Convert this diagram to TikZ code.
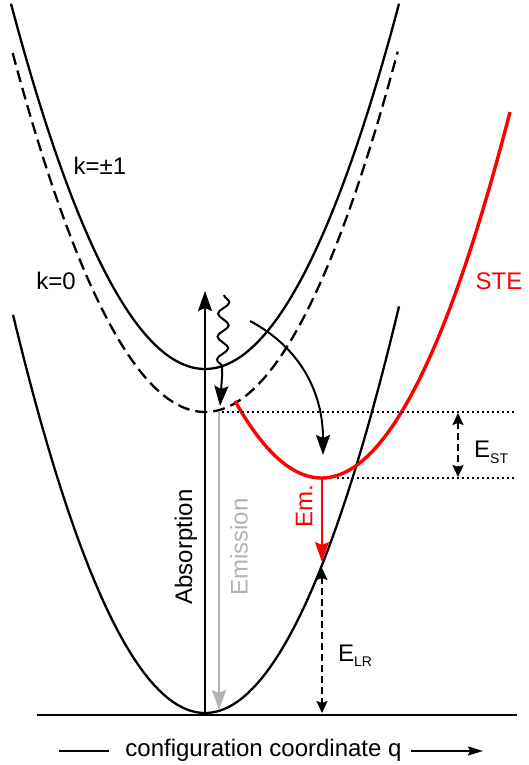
\documentclass[tikz,border=0pt]{standalone}
\usepackage{fontspec}
\setmainfont{Liberation Sans}
\usetikzlibrary{arrows.meta,decorations.pathmorphing}
\definecolor{stered}{RGB}{255,0,0}
\definecolor{emgrey}{RGB}{178,178,178}
\begin{document}
\begin{tikzpicture}[x=1pt,y=1pt,
  curve/.style={line width=2.3pt},
  dashcurve/.style={line width=2.3pt, dash pattern=on 12pt off 6pt},
  dotline/.style={line width=2pt, dash pattern=on 2pt off 3pt},
  bighead/.style={-{Stealth[length=20pt,width=14pt,inset=3pt]}},
  twohead/.style={{Stealth[length=12pt,width=11pt,inset=2pt]}-{Stealth[length=12pt,width=11pt,inset=2pt]}},
  lbl/.style={font=\fontsize{24}{28}\selectfont, inner sep=0pt},
]
\useasboundingbox (0,0) rectangle (529,765);

% potential curves
\draw[curve] plot[domain=13:399, samples=120] (\x, {52+0.0108*(\x-205)*(\x-205)});
\draw[curve] plot[domain=11:399, samples=120] (\x, {396+0.0097*(\x-205)*(\x-205)});
\draw[dashcurve] plot[domain=12.7:397.7, samples=120] (\x, {353+0.0097*(\x-205)*(\x-205)});
\draw[line width=3.4pt, stered] plot[domain=235:510, samples=120] (\x, {287+0.0103*(\x-321.5)*(\x-321.5)});

% axis
\coordinate (axL) at (37,50);
\coordinate (axR) at (517,50);
\draw[line width=2.3pt] (axL) -- (axR);

% coordinates
\coordinate (absB) at (205,52);
\coordinate (absT) at (205,474);
\coordinate (emT) at (219,353);
\coordinate (emB) at (219,55);
\coordinate (wavT) at (224,470);
\coordinate (wavM) at (222,388);
\coordinate (wavB) at (220,359);
\coordinate (curS) at (250,444);
\coordinate (curE) at (323,310);
\coordinate (steMin) at (322,287);
\coordinate (emRedE) at (322,203);
\coordinate (lrT) at (322,197);
\coordinate (lrB) at (322,52);
\coordinate (stT) at (458,352);
\coordinate (stB) at (458,288);
\coordinate (dA1) at (222,353);
\coordinate (dA2) at (516,353);
\coordinate (dB1) at (337,287);
\coordinate (dB2) at (516,287);

% dotted levels
\draw[dotline] (dA1) -- (dA2);
\draw[dotline] (dB1) -- (dB2);

% transitions
\draw[line width=2pt, bighead] (absB) -- (absT);
\draw[line width=2pt, emgrey, bighead] (emT) -- (emB);
\draw[line width=2pt, decorate, decoration={snake, amplitude=5.5pt, segment length=23pt, post length=4pt}] (wavT) -- (wavM);
\draw[line width=2pt, bighead] (wavM) -- (wavB);
\draw[line width=2pt, bighead] (curS) to[out=-28, in=90] (curE);
\draw[line width=2pt, stered, -{Stealth[length=20pt,width=14pt,inset=3pt]}] (steMin) -- (emRedE);
\draw[line width=2pt, dash pattern=on 7pt off 4pt, twohead] (lrT) -- (lrB);
\draw[line width=2pt, dash pattern=on 7pt off 4pt, twohead] (stT) -- (stB);

% labels
\node[lbl] (k1) at (100,599) {k=±1};
\node[lbl] (k0) at (56,484) {k=0};
\node[lbl, text=stered] (ste) at (499,484) {STE};
\node[lbl, rotate=90] (absl) at (186,218) {Absorption};
\node[lbl, rotate=90, text=emgrey] (emil) at (239,218) {Emission};
\node[lbl, rotate=90, text=stered] (eml) at (304,259) {Em.};
\node[lbl, anchor=base west] (est) at (474,307) {E\raisebox{-6pt}{\fontsize{14}{14}\selectfont ST}};
\node[lbl, anchor=base west] (elr) at (338,103) {E\raisebox{-5pt}{\fontsize{14}{14}\selectfont LR}};

% bottom axis label
\node[lbl] (xl) at (263.5,15) {configuration coordinate q};
\coordinate (qL1) at (59,14);
\coordinate (qL2) at (109,14);
\coordinate (qR1) at (411,14);
\coordinate (qR2) at (483,14);
\draw[line width=2pt] (qL1) -- (qL2);
\draw[line width=2pt, -{Stealth[length=15pt,width=9pt,inset=2pt]}] (qR1) -- (qR2);
\end{tikzpicture}
\end{document}
